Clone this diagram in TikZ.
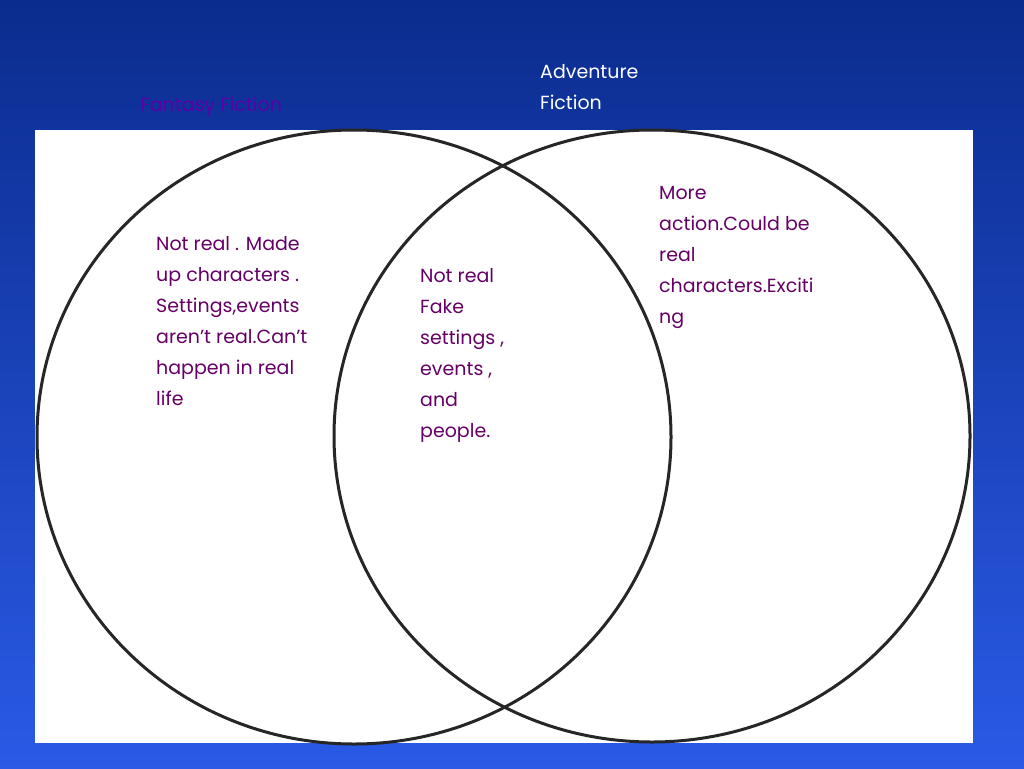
\documentclass[tikz,border=0pt]{standalone}
\usepackage{fontspec}
\usetikzlibrary{shapes.geometric}
\setmainfont{Poppins}
\begin{document}
\begin{tikzpicture}[x=1pt,y=-1pt,
  circ/.style={draw=black!85,line width=3pt,ellipse,inner sep=0pt},
  txt/.style={text=violet!80!black,font=\fontsize{19}{31}\selectfont,align=left,anchor=north west,inner sep=0pt}]
\definecolor{bgtop}{HTML}{0B2C8E}
\definecolor{bgbot}{HTML}{2A5AE6}
\shade[top color=bgtop,bottom color=bgbot] (0,0) rectangle (1024,768);
\useasboundingbox (0,0) rectangle (1024,768);
\fill[white] (35,130) rectangle (973,743);
\node (lc) [circ,minimum width=634pt,minimum height=614pt] at (354,437) {};
\node (rc) [circ,minimum width=636pt,minimum height=612pt] at (652,436) {};
\node (ff) [anchor=west,text=violet!70!blue,font=\fontsize{19}{24}\selectfont,inner sep=0pt] at (140,107) {Fantasy Fiction};
\node (af) [txt,text=white,anchor=north west] at (540,64) {Adventure\\Fiction};
\node (lt) [txt] at (156,236) {Not real . Made\\up characters .\\Settings,events\\aren’t real.Can’t\\happen in real\\life};
\node (mt) [txt] at (420,268) {Not real\\Fake\\settings ,\\events ,\\and\\people.};
\node (rt) [txt] at (659,186) {More\\action.Could be\\real\\characters.Exciti\\ng};
\end{tikzpicture}
\end{document}
